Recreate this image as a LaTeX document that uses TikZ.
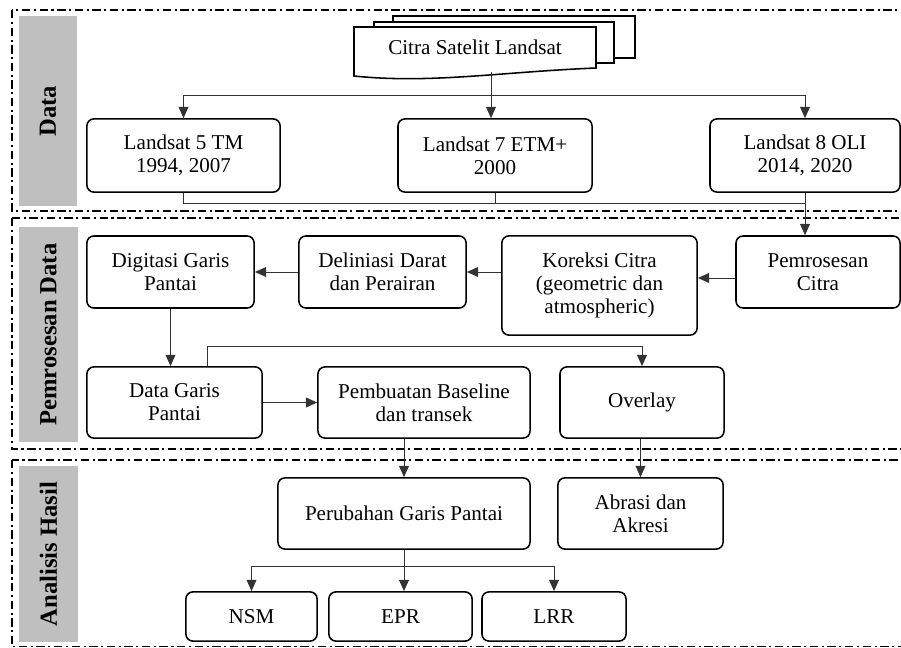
\documentclass[tikz,border=0pt]{standalone}
\usepackage{fontspec}
\setmainfont{Liberation Serif}
\usetikzlibrary{arrows.meta}

\begin{document}
\begin{tikzpicture}[x=0.025cm,y=-0.025cm,
        box/.style={draw, rounded corners=5pt, line width=1.1pt, align=center, inner sep=2pt, font=\fontsize{15}{16.5}\selectfont},
        frame/.style={line width=1.2pt, dash pattern=on 6pt off 2.5pt on 1.5pt off 2.5pt},
        band/.style={fill=black!25},
        lbl/.style={rotate=90, font=\bfseries\fontsize{17.5}{20}\selectfont},
        line/.style={draw=black!80, line width=0.7pt},
        arr/.style={line, -{Triangle[length=8pt,width=7pt]}}]
        \useasboundingbox (0,0) rectangle (901,648);
        \clip (0,0) rectangle (901,648);
        % frames
        \draw[frame] (12,10) rectangle (910,211);
        \draw[frame] (12,218) rectangle (910,449);
        \draw[frame] (12,460) rectangle (910,646.5);
        \fill[band] (19,16) rectangle (77,206);
        \fill[band] (19,227) rectangle (78,442);
        \fill[band] (19,466) rectangle (78,642);
        \node[lbl] (lbdata) at (48,111) {Data};
        \node[lbl] (lbproc) at (48.5,334.5) {Pemrosesan Data};
        \node[lbl] (lbhasil) at (48.5,554) {Analisis Hasil};
        % multi document
        \draw[line width=1.1pt] (393,22) -- (393,16) -- (635,16) -- (635,58) -- (614,58);
        \draw[line width=1.1pt] (374,27) -- (374,22) -- (614,22) -- (614,63) -- (596,63);
        \draw[line width=1.1pt] (354,27) -- (596,27) -- (596,68) .. controls (500,72) and (430,84) .. (354,76) -- cycle;
        \node[font=\fontsize{15}{16.5}\selectfont] (citra) at (475,47) {Citra Satelit Landsat};
        \coordinate (citrabot) at (491,72);
        \coordinate (bus) at (491,95);
        % data
        \node[box, minimum width=4.83cm, minimum height=1.83cm] (l5) at (183.5,155.5) {Landsat 5 TM\\1994, 2007};
        \node[box, minimum width=4.85cm, minimum height=1.83cm] (l7) at (495,155.5) {Landsat 7 ETM+\\2000};
        \node[box, minimum width=4.75cm, minimum height=1.83cm] (l8) at (805,155.5) {Landsat 8 OLI\\2014, 2020};
        \draw[arr] (citrabot) -- (citrabot |- l7.north);
        \draw[arr] (bus) -| (l5);
        \draw[arr] (bus) -| (l8);
        \coordinate (join) at (805,203);
        \draw[line] (l5.south) |- (join);
        \draw[line] (l7.south) -- (l7.south |- join);
        % pemrosesan
        \node[box, minimum width=4.1cm, minimum height=1.8cm] (proc) at (818,272) {Pemrosesan\\Citra};
        \node[box, minimum width=4.88cm, minimum height=2.48cm] (kor) at (599.5,285.5) {Koreksi Citra\\(geometric dan\\atmospheric)};
        \node[box, minimum width=4.18cm, minimum height=1.8cm] (deli) at (382.5,272) {Deliniasi Darat\\dan Perairan};
        \node[box, minimum width=4.18cm, minimum height=1.8cm] (digi) at (170.5,272) {Digitasi Garis\\Pantai};
        \node[box, minimum width=4.38cm, minimum height=1.78cm] (dgp) at (174.5,402.5) {Data Garis\\Pantai};
        \node[box, minimum width=5.3cm, minimum height=1.78cm] (base) at (424,402.5) {Pembuatan Baseline\\dan transek};
        \node[box, minimum width=4.1cm, minimum height=1.78cm] (over) at (642,402.5) {Overlay};
        \draw[arr] (l8.south) -- (l8.south |- proc.north);
        \draw[arr] (proc.west |- 0,278) -- (kor.east |- 0,278);
        \draw[arr] (kor.west |- deli.east) -- (deli.east);
        \draw[arr] (deli.west) -- (digi.east);
        \draw[arr] (digi.south) -- (digi.south |- dgp.north);
        \draw[arr] (dgp.east) -- (base.west);
        \coordinate (ovbus) at (207,346);
        \draw[arr] (dgp.north -| ovbus) -- (ovbus) -| (over);
        % analisis
        \node[box, minimum width=6.3cm, minimum height=1.78cm] (peru) at (404,513.5) {Perubahan Garis Pantai};
        \node[box, minimum width=4.13cm, minimum height=1.78cm] (abr) at (640.5,513.5) {Abrasi dan\\Akresi};
        \node[box, minimum width=3.28cm, minimum height=1.23cm] (nsm) at (251.5,616.5) {NSM};
        \node[box, minimum width=3.58cm, minimum height=1.23cm] (epr) at (400.5,616.5) {EPR};
        \node[box, minimum width=3.6cm, minimum height=1.23cm] (lrr) at (554,616.5) {LRR};
        \draw[arr] (base.south -| peru) -- (peru);
        \draw[arr] (over.south -| abr) -- (abr);
        \draw[arr] (peru.south) -- ++(0,17) -| (nsm);
        \draw[arr] (peru.south) -- ++(0,17) -| (lrr);
        \draw[arr] (peru.south) -- (peru.south |- epr.north);
    \end{tikzpicture}
\end{document}
